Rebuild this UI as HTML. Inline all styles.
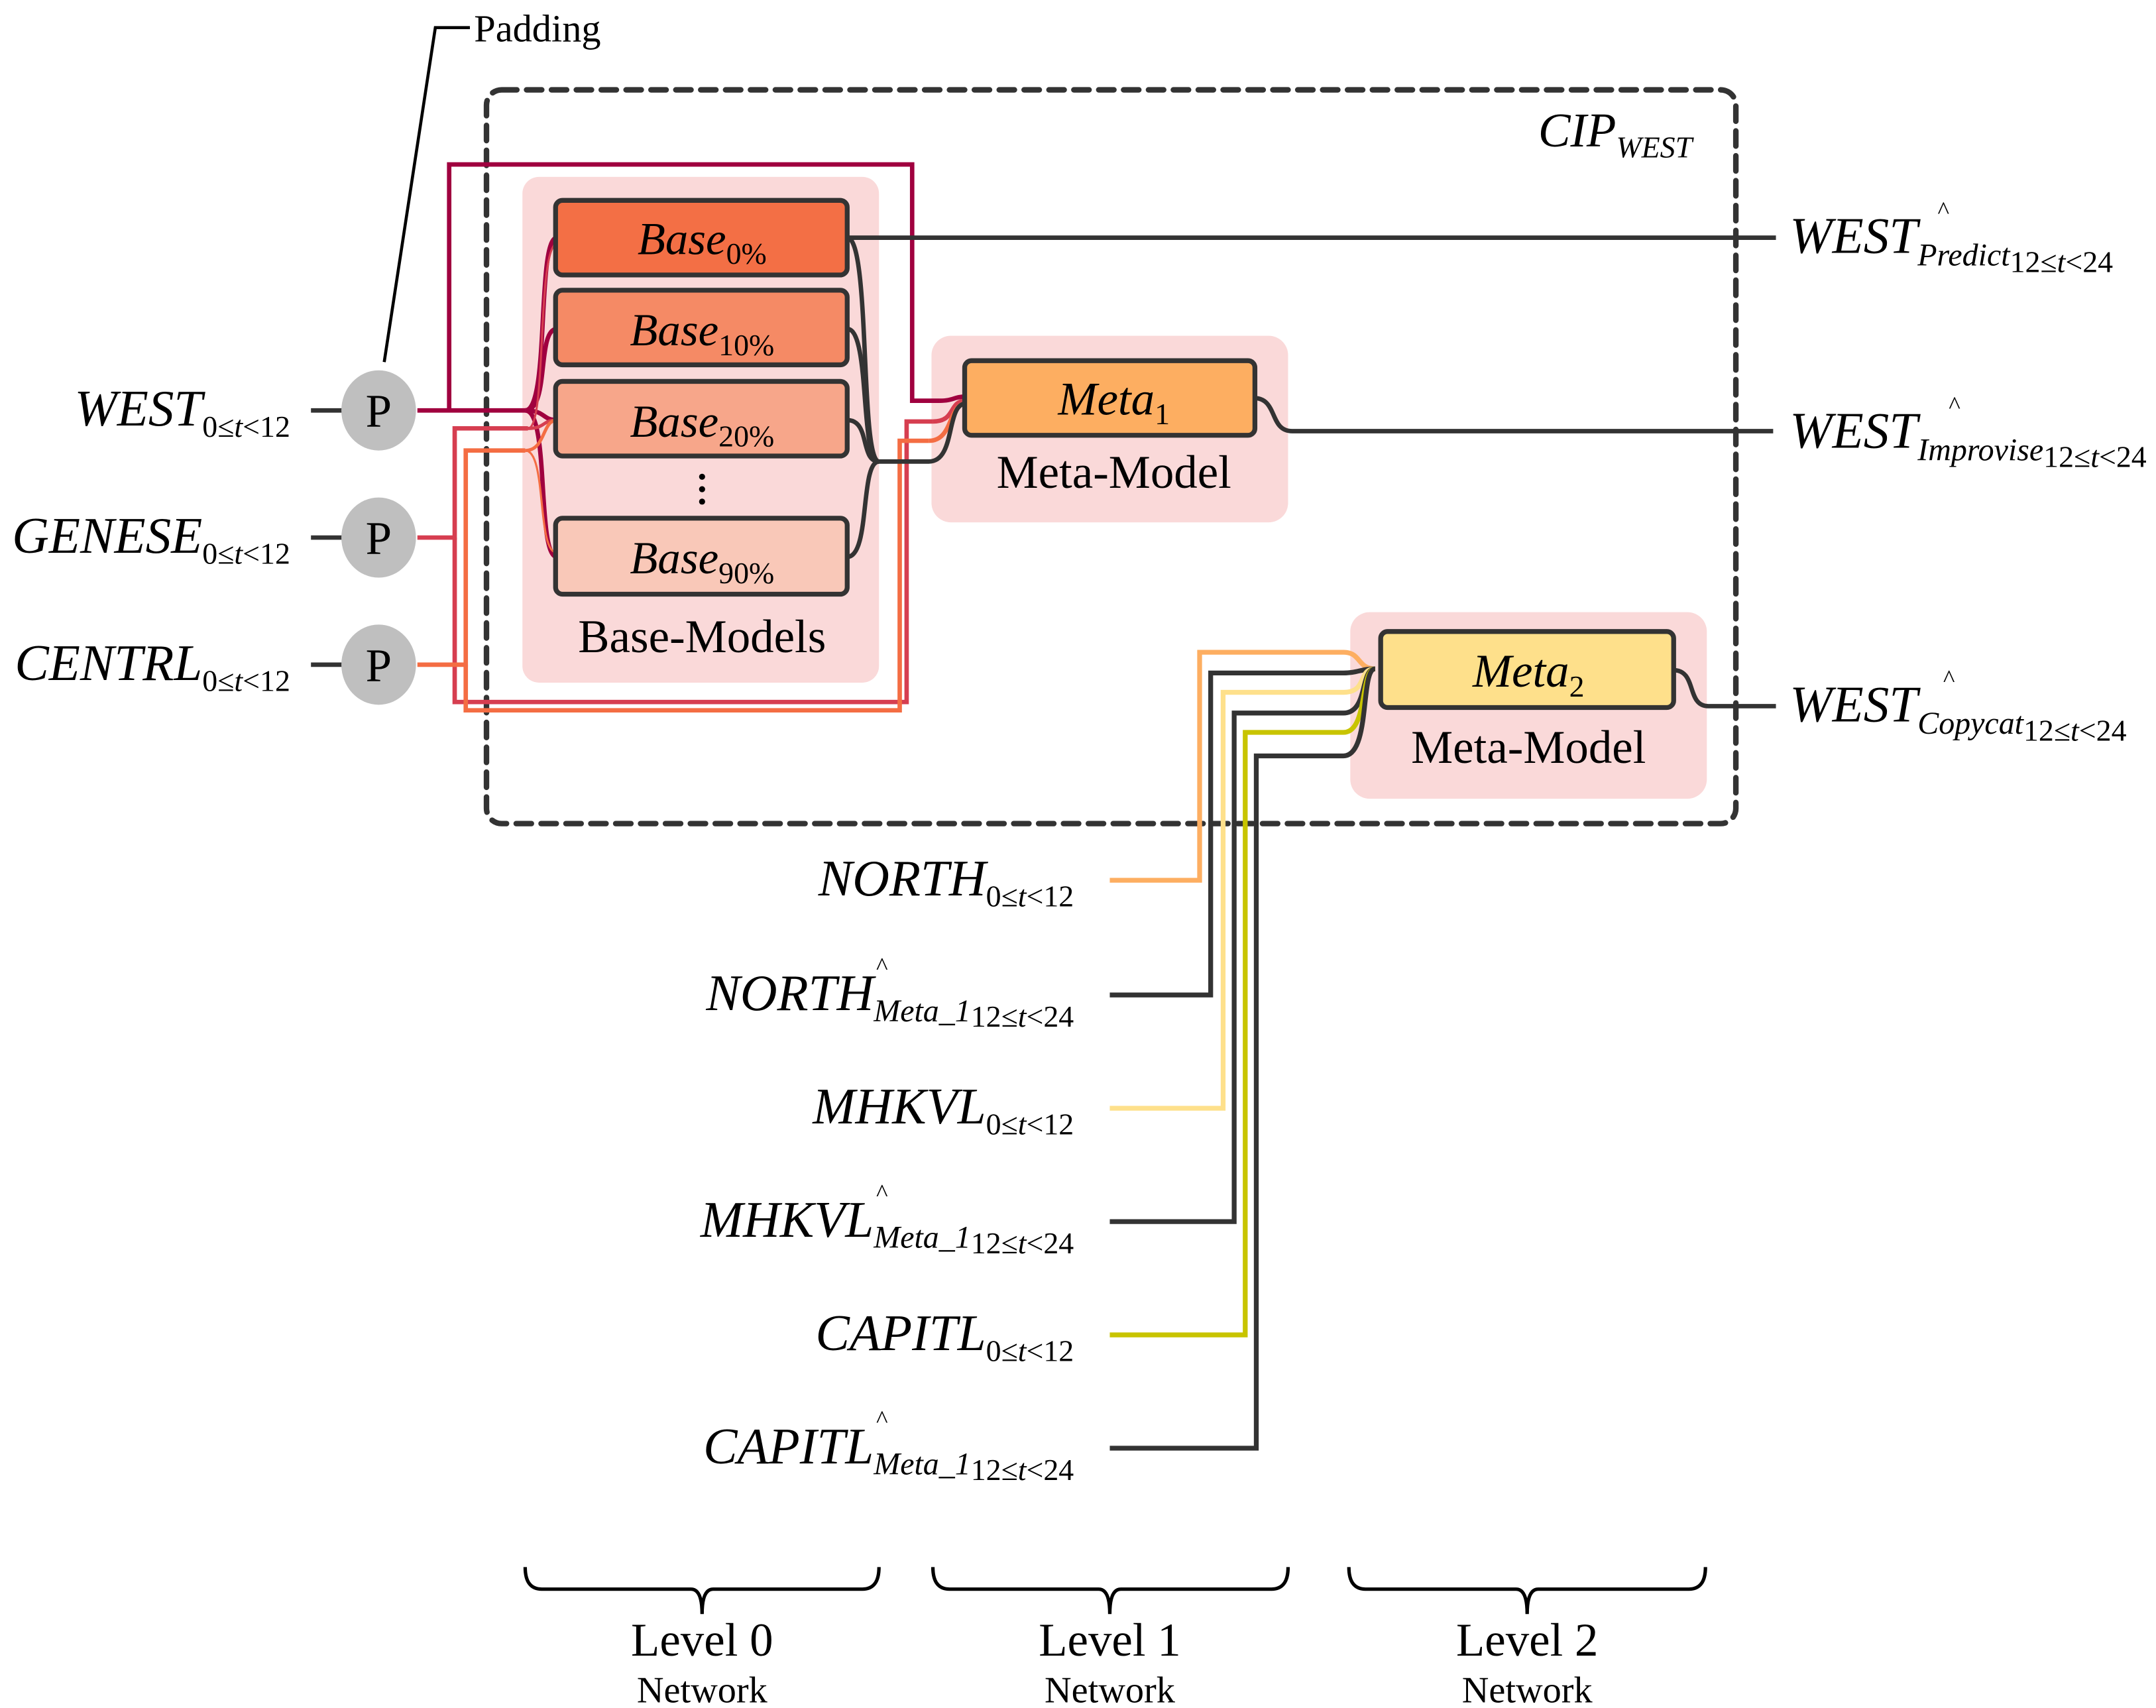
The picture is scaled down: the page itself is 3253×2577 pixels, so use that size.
<!DOCTYPE html>
<html><head><meta charset="utf-8"><style>
html,body{margin:0;padding:0;background:#fff;}
svg{display:block;}
text{font-family:"Liberation Serif","DejaVu Serif",serif;fill:#000;}
.i{font-style:italic;}
.u{font-style:normal;}
</style></head><body>
<svg width="3253" height="2577" viewBox="0 0 1560 1236" preserveAspectRatio="none" xmlns="http://www.w3.org/2000/svg">
<rect width="1560" height="1236" fill="#fff"/>

<polyline points="278,262 315,20 340,20" fill="none" stroke="#000" stroke-width="2.2"/>
<text x="343" y="30" font-size="28">Padding</text>

<rect x="378" y="128" width="258" height="366" rx="12" fill="#fad9d9"/>
<rect x="674" y="243" width="258" height="135" rx="14" fill="#fad9d9"/>
<rect x="977" y="443" width="258" height="135" rx="14" fill="#fad9d9"/>

<rect x="352" y="65" width="904" height="531" rx="11" fill="none" stroke="#333" stroke-width="4" stroke-dasharray="11,7" stroke-linecap="round"/>
<text x="1113" y="106" font-size="35" class="i">CIP<tspan font-size="22" dy="8">WEST</tspan></text>

<g fill="none" stroke-width="3.2">
<polyline points="302,297 380,297" stroke="#a0003f"/>
<polyline points="325,297 325,119 660,119 660,290 680,290" stroke="#a0003f"/>
<path d="M680,290 C690,290 690,287 699,287" stroke="#a0003f"/>
<polyline points="302,389 329,389 329,310 382,310" stroke="#d63e50"/>
<polyline points="329,389 329,508 656,508 656,305 675,305" stroke="#d63e50"/>
<path d="M675,305 C692,305 686,290 699,290" stroke="#d63e50"/>
<polyline points="302,481 337,481 337,326 380,326" stroke="#f46d43"/>
<polyline points="337,481 337,514 651,514 651,319 672,319" stroke="#f46d43"/>
<path d="M672,319 C690,319 686,292 699,292" stroke="#f46d43"/>
<path d="M380,297 C398,297 388,172 403,172" stroke="#a0003f"/>
<path d="M380,297 C398,297 388,238 403,238" stroke="#a0003f"/>
<path d="M380,297 C395,297 392,304 403,304" stroke="#a0003f"/>
<path d="M380,297 C398,297 388,403 403,403" stroke="#a0003f"/>
<path d="M382,310 C395,310 392,304 403,304" stroke="#d63e50" stroke-width="2.4"/>
<path d="M380,326 C395,326 392,304 403,304" stroke="#f46d43" stroke-width="2.4"/>
<path d="M382,310 C396,310 388,180 403,176" stroke="#d63e50" stroke-width="1.5"/>
<path d="M380,326 C396,326 388,400 403,400" stroke="#f46d43" stroke-width="1.5"/>
</g>

<g fill="none" stroke="#333" stroke-width="3.2">
<path d="M613,172 C630,172 622,334 636,334"/>
<path d="M613,238 C630,238 622,334 636,334"/>
<path d="M613,304 C630,304 622,334 636,334"/>
<path d="M613,403 C630,403 622,334 636,334"/>
<path d="M636,334 L660,334 M660,334 L672,334 C692,334 684,292 699,292"/>
<polyline points="613,172 1285,172"/>
<path d="M907,288 C925,288 918,312 935,312 L1283,312"/>
<path d="M1211,485 C1228,485 1220,511 1236,511 L1285,511"/>
</g>

<g stroke="#333" stroke-width="3.5">
<rect x="402" y="145" width="211" height="54" rx="5" fill="#f36f45"/>
<rect x="402" y="210" width="211" height="54" rx="5" fill="#f58a65"/>
<rect x="402" y="276" width="211" height="54" rx="5" fill="#f7a68a"/>
<rect x="402" y="375" width="211" height="55" rx="5" fill="#f9c8b8"/>
<rect x="698" y="261" width="210" height="54" rx="5" fill="#fdae61"/>
<rect x="999" y="457" width="212" height="55" rx="5" fill="#fee08b"/>
</g>
<text x="508" y="184" font-size="33" class="i" text-anchor="middle">Base<tspan class="u" font-size="22" dy="7">0%</tspan></text>
<text x="508" y="250" font-size="33" class="i" text-anchor="middle">Base<tspan class="u" font-size="22" dy="7">10%</tspan></text>
<text x="508" y="316" font-size="33" class="i" text-anchor="middle">Base<tspan class="u" font-size="22" dy="7">20%</tspan></text>
<text x="508" y="415" font-size="33" class="i" text-anchor="middle">Base<tspan class="u" font-size="22" dy="7">90%</tspan></text>
<circle cx="508" cy="345" r="2.2" fill="#000"/><circle cx="508" cy="354" r="2.2" fill="#000"/><circle cx="508" cy="363" r="2.2" fill="#000"/>
<text x="508" y="472" font-size="34" text-anchor="middle">Base-Models</text>
<text x="806" y="300" font-size="34" class="i" text-anchor="middle">Meta<tspan class="u" font-size="22" dy="7">1</tspan></text>
<text x="806" y="353" font-size="34" text-anchor="middle">Meta-Model</text>
<text x="1106" y="497" font-size="34" class="i" text-anchor="middle">Meta<tspan class="u" font-size="22" dy="7">2</tspan></text>
<text x="1106" y="552" font-size="34" text-anchor="middle">Meta-Model</text>

<g stroke="#333" stroke-width="3.2"><line x1="225" y1="297" x2="248" y2="297"/><line x1="225" y1="389" x2="248" y2="389"/><line x1="225" y1="481" x2="248" y2="481"/></g>
<g fill="#bfbfbf"><ellipse cx="274" cy="297" rx="27" ry="29"/><ellipse cx="274" cy="389" rx="27" ry="29"/><ellipse cx="274" cy="481" rx="27" ry="29"/></g>
<text x="274" y="309" font-size="34" text-anchor="middle">P</text>
<text x="274" y="401" font-size="34" text-anchor="middle">P</text>
<text x="274" y="493" font-size="34" text-anchor="middle">P</text>
<text x="210" y="308" font-size="37" class="i" text-anchor="end">WEST<tspan font-size="22" dy="8" class="u">0≤<tspan class="i">t</tspan>&lt;12</tspan></text>
<text x="210" y="400" font-size="37" class="i" text-anchor="end">GENESE<tspan font-size="22" dy="8" class="u">0≤<tspan class="i">t</tspan>&lt;12</tspan></text>
<text x="210" y="492" font-size="37" class="i" text-anchor="end">CENTRL<tspan font-size="22" dy="8" class="u">0≤<tspan class="i">t</tspan>&lt;12</tspan></text>

<text x="1295" y="183" font-size="37" class="i">WEST<tspan font-size="23" dy="9">Predict</tspan><tspan font-size="22" dy="5" class="u">12≤<tspan class="i">t</tspan>&lt;24</tspan></text>
<text x="1402" y="158" font-size="18">^</text>
<text x="1295" y="324" font-size="37" class="i">WEST<tspan font-size="23" dy="9">Improvise</tspan><tspan font-size="22" dy="5" class="u">12≤<tspan class="i">t</tspan>&lt;24</tspan></text>
<text x="1410" y="299" font-size="18">^</text>
<text x="1295" y="522" font-size="37" class="i">WEST<tspan font-size="23" dy="9">Copycat</tspan><tspan font-size="22" dy="5" class="u">12≤<tspan class="i">t</tspan>&lt;24</tspan></text>
<text x="1406" y="497" font-size="18">^</text>

<g fill="none" stroke-width="3.5">
<path d="M803,637 L868,637 L868,472 L972,472 C985,472 982,484 995,484" stroke="#fdae61"/>
<path d="M803,720 L876,720 L876,487 L972,487 C982,487 985,484 995,484" stroke="#333"/>
<path d="M803,802 L885,802 L885,501 L972,501 C990,501 982,484 995,484" stroke="#fee08b"/>
<path d="M803,884 L893,884 L893,516 L972,516 C990,516 984,484 995,484" stroke="#333"/>
<path d="M803,966 L901,966 L901,530 L972,530 C990,530 984,484 995,484" stroke="#c8c400"/>
<path d="M803,1048 L909,1048 L909,547 L972,547 C992,547 984,484 995,484" stroke="#333"/>
</g>
<text x="777" y="648" font-size="37" class="i" text-anchor="end">NORTH<tspan font-size="22" dy="8" class="u">0≤<tspan class="i">t</tspan>&lt;12</tspan></text>
<text x="777" y="731" font-size="37" class="i" text-anchor="end">NORTH<tspan font-size="23" dy="8">Meta_1</tspan><tspan font-size="22" dy="4" class="u">12≤<tspan class="i">t</tspan>&lt;24</tspan></text>
<text x="634" y="705" font-size="18">^</text>
<text x="777" y="813" font-size="37" class="i" text-anchor="end">MHKVL<tspan font-size="22" dy="8" class="u">0≤<tspan class="i">t</tspan>&lt;12</tspan></text>
<text x="777" y="895" font-size="37" class="i" text-anchor="end">MHKVL<tspan font-size="23" dy="8">Meta_1</tspan><tspan font-size="22" dy="4" class="u">12≤<tspan class="i">t</tspan>&lt;24</tspan></text>
<text x="634" y="869" font-size="18">^</text>
<text x="777" y="977" font-size="37" class="i" text-anchor="end">CAPITL<tspan font-size="22" dy="8" class="u">0≤<tspan class="i">t</tspan>&lt;12</tspan></text>
<text x="777" y="1059" font-size="37" class="i" text-anchor="end">CAPITL<tspan font-size="23" dy="8">Meta_1</tspan><tspan font-size="22" dy="4" class="u">12≤<tspan class="i">t</tspan>&lt;24</tspan></text>
<text x="634" y="1033" font-size="18">^</text>

<g fill="none" stroke="#000" stroke-width="2.5">
<path d="M380,1134 Q380,1150 392,1150 L500,1150 Q508,1150 508,1168 Q508,1150 516,1150 L624,1150 Q636,1150 636,1134"/>
<path d="M675,1134 Q675,1150 687,1150 L795,1150 Q803,1150 803,1168 Q803,1150 811,1150 L920,1150 Q932,1150 932,1134"/>
<path d="M976,1134 Q976,1150 988,1150 L1097,1150 Q1105,1150 1105,1168 Q1105,1150 1113,1150 L1222,1150 Q1234,1150 1234,1134"/>
</g>
<text x="508" y="1198" font-size="34" text-anchor="middle">Level 0</text>
<text x="508" y="1232" font-size="27" text-anchor="middle">Network</text>
<text x="803" y="1198" font-size="34" text-anchor="middle">Level 1</text>
<text x="803" y="1232" font-size="27" text-anchor="middle">Network</text>
<text x="1105" y="1198" font-size="34" text-anchor="middle">Level 2</text>
<text x="1105" y="1232" font-size="27" text-anchor="middle">Network</text>
</svg>
</body></html>
